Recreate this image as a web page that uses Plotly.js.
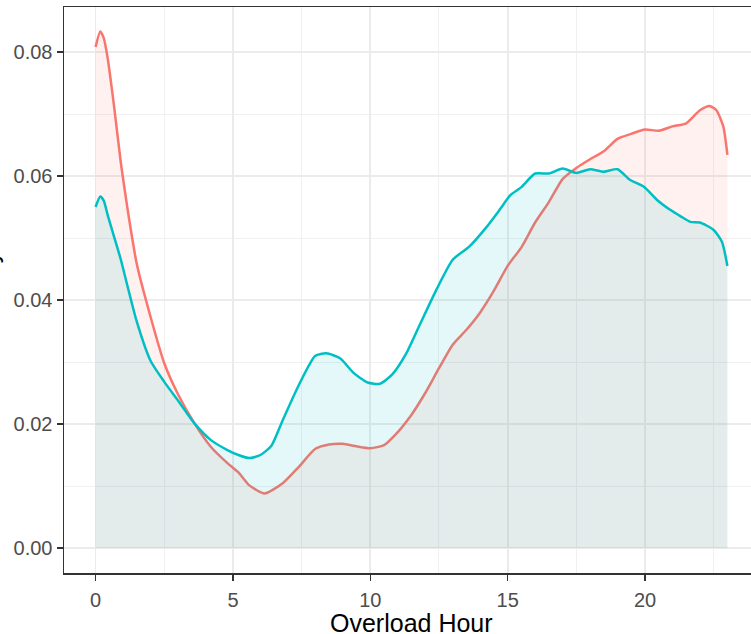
<!DOCTYPE html>
<html>
<head>
<meta charset="utf-8">
<script src="https://cdn.plot.ly/plotly-3.0.1.min.js"></script>
<style>
  html, body { margin: 0; padding: 0; overflow: hidden; background: #ffffff; }
  #chart { width: 770px; height: 634px; }
</style>
</head>
<body>
<div id="chart"></div>
<script>
// Series 1 (red)
const redX = [0, 0.17, 0.3, 0.44, 0.68, 0.92, 1.17, 1.5, 2.0, 2.5, 3.0, 3.6, 4.2, 4.8, 5.2, 5.6, 6.15, 6.8, 7.4, 8.0, 8.5, 9.0, 9.5, 10.0, 10.5, 11.0, 11.5, 12.0, 12.5, 13.0, 13.5, 14.0, 14.5, 15.0, 15.5, 16.0, 16.5, 17.0, 17.5, 18.0, 18.5, 19.0, 19.5, 20.0, 20.5, 21.0, 21.5, 22.0, 22.35, 22.6, 22.85, 23.0];
const redY = [0.0808, 0.0833, 0.0822, 0.0790, 0.0710, 0.0621, 0.0545, 0.0458, 0.0373, 0.0298, 0.0248, 0.0201, 0.0163, 0.0137, 0.0122, 0.0101, 0.0088, 0.0104, 0.0131, 0.0160, 0.0167, 0.0168, 0.0164, 0.0161, 0.0166, 0.0187, 0.0215, 0.0250, 0.0290, 0.0328, 0.0352, 0.0380, 0.0415, 0.0455, 0.0485, 0.0525, 0.0558, 0.0595, 0.0613, 0.0627, 0.0640, 0.0660, 0.0668, 0.0675, 0.0673, 0.0680, 0.0685, 0.0706, 0.0713, 0.0706, 0.0680, 0.0634];

// Series 2 (teal)
const tealX = [0, 0.17, 0.3, 0.44, 0.68, 0.92, 1.17, 1.5, 2.0, 2.5, 3.0, 3.6, 4.2, 4.8, 5.2, 5.6, 6.0, 6.4, 6.8, 7.4, 8.0, 8.4, 8.9, 9.4, 9.9, 10.35, 10.8, 11.3, 11.8, 12.4, 13.0, 13.6, 14.2, 14.7, 15.1, 15.5, 16.0, 16.5, 17.0, 17.5, 18.0, 18.5, 19.0, 19.45, 19.95, 20.45, 20.9, 21.3, 21.65, 22.0, 22.5, 22.8, 23.0];
const tealY = [0.0550, 0.0567, 0.0560, 0.0537, 0.0501, 0.0465, 0.0421, 0.0365, 0.0302, 0.0268, 0.0238, 0.0201, 0.0174, 0.0158, 0.0150, 0.0145, 0.0150, 0.0165, 0.0205, 0.0263, 0.0310, 0.0314, 0.0306, 0.0282, 0.0267, 0.0265, 0.0280, 0.0313, 0.0360, 0.0416, 0.0465, 0.0486, 0.0516, 0.0545, 0.0569, 0.0582, 0.0604, 0.0604, 0.0612, 0.0605, 0.0611, 0.0607, 0.0611, 0.0594, 0.0583, 0.0561, 0.0546, 0.0535, 0.0526, 0.0525, 0.0513, 0.0494, 0.0455];

const xTicks = [0, 5, 10, 15, 20];
const yTicks = [0, 0.02, 0.04, 0.06, 0.08];
const yTickText = ['0.00', '0.02', '0.04', '0.06', '0.08'];

const font = 'Liberation Sans, Arial, Helvetica, sans-serif';

const traces = [
  {
    x: redX, y: redY, type: 'scatter', mode: 'lines',
    line: { color: '#F8766D', width: 2.5, shape: 'spline', smoothing: 0.6 },
    fill: 'tozeroy', fillcolor: 'rgba(248,118,109,0.1)',
    hoverinfo: 'x+y', showlegend: false
  },
  {
    x: tealX, y: tealY, type: 'scatter', mode: 'lines',
    line: { color: '#00BFC4', width: 2.5, shape: 'spline', smoothing: 0.6 },
    fill: 'tozeroy', fillcolor: 'rgba(0,191,196,0.1)',
    hoverinfo: 'x+y', showlegend: false
  }
];

const layout = {
  width: 770, height: 634,
  margin: { l: 64, r: 11, t: 7, b: 61 },
  paper_bgcolor: '#ffffff', plot_bgcolor: '#ffffff',
  showlegend: false,
  font: { family: font },
  xaxis: {
    range: [-1.15, 24.15],
    tickvals: xTicks,
    ticks: 'outside', ticklen: 6, tickwidth: 1.5, tickcolor: '#333333',
    ticklabelstandoff: 2,
    tickfont: { family: font, size: 20, color: '#4D4D4D' },
    showgrid: true, gridcolor: '#EBEBEB', gridwidth: 1.8,
    minor: { dtick: 2.5, tick0: 0, showgrid: true, gridcolor: '#F0F0F0', gridwidth: 1, ticks: '' },
    zeroline: false,
    showline: true, mirror: true, linecolor: '#333333', linewidth: 1.5
  },
  yaxis: {
    range: [-0.00403, 0.08726],
    tickvals: yTicks, ticktext: yTickText,
    ticks: 'outside', ticklen: 6, tickwidth: 1.5, tickcolor: '#333333',
    tickfont: { family: font, size: 20, color: '#4D4D4D' },
    showgrid: true, gridcolor: '#EBEBEB', gridwidth: 1.8,
    minor: { dtick: 0.01, tick0: 0, showgrid: true, gridcolor: '#F0F0F0', gridwidth: 1, ticks: '' },
    zeroline: false,
    showline: true, mirror: true, linecolor: '#333333', linewidth: 1.5
  },
  annotations: [
    {
      text: 'Overload Hour',
      xref: 'paper', yref: 'paper',
      x: 0.5, y: (573 - 607) / 566,
      xanchor: 'center', yanchor: 'top',
      showarrow: false,
      font: { family: font, size: 25, color: '#000000' }
    },
    {
      text: 'density', textangle: -90,
      xref: 'paper', yref: 'paper',
      x: (5 - 64) / 695, y: 0.5,
      xanchor: 'right', yanchor: 'middle',
      showarrow: false,
      font: { family: font, size: 25, color: '#000000' }
    }
  ]
};

Plotly.newPlot('chart', traces, layout, { displayModeBar: false, staticPlot: true });
</script>
</body>
</html>
